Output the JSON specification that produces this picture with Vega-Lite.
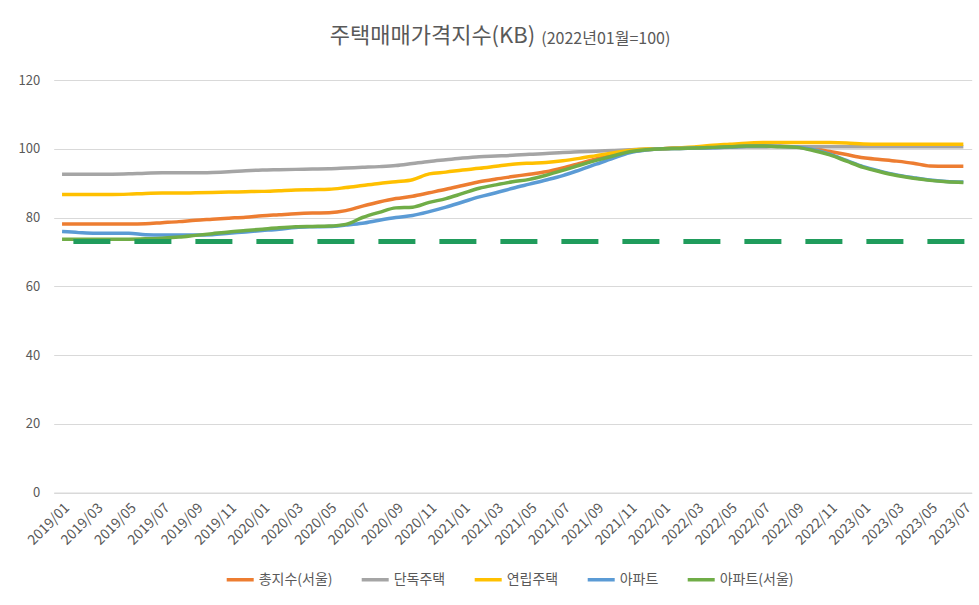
{
"$schema": "https://vega.github.io/schema/vega-lite/v6.json",
"width": 918,
"height": 412.5,
"autosize": {"type": "none"},
"padding": {"left": 53.7, "top": 80, "right": 7.3, "bottom": 112.5},
"background": "white",
"config": {"font": "Noto Sans CJK KR", "view": {"stroke": null}},
"title": {"text": "주택매매가격지수(KB)", "subtitle": "​　　　　　　　　　　　　　 (2022년01월=100)", "anchor": "start", "frame": "group", "dx": 276, "fontSize": 22, "fontWeight": "normal", "color": "#595959", "subtitleFontSize": 16, "subtitleColor": "#595959", "subtitlePadding": -17, "offset": 26},
"datasets": {
"idx": [
{"month":"2019/01","series":"총지수(서울)","value":78.1},{"month":"2019/02","series":"총지수(서울)","value":78.1},{"month":"2019/03","series":"총지수(서울)","value":78.1},{"month":"2019/04","series":"총지수(서울)","value":78.1},{"month":"2019/05","series":"총지수(서울)","value":78.1},{"month":"2019/06","series":"총지수(서울)","value":78.2},{"month":"2019/07","series":"총지수(서울)","value":78.5},{"month":"2019/08","series":"총지수(서울)","value":78.8},{"month":"2019/09","series":"총지수(서울)","value":79.2},{"month":"2019/10","series":"총지수(서울)","value":79.5},{"month":"2019/11","series":"총지수(서울)","value":79.8},{"month":"2019/12","series":"총지수(서울)","value":80.1},{"month":"2020/01","series":"총지수(서울)","value":80.5},{"month":"2020/02","series":"총지수(서울)","value":80.8},{"month":"2020/03","series":"총지수(서울)","value":81.1},{"month":"2020/04","series":"총지수(서울)","value":81.3},{"month":"2020/05","series":"총지수(서울)","value":81.4},{"month":"2020/06","series":"총지수(서울)","value":82.0},{"month":"2020/07","series":"총지수(서울)","value":83.3},{"month":"2020/08","series":"총지수(서울)","value":84.5},{"month":"2020/09","series":"총지수(서울)","value":85.5},{"month":"2020/10","series":"총지수(서울)","value":86.2},{"month":"2020/11","series":"총지수(서울)","value":87.2},{"month":"2020/12","series":"총지수(서울)","value":88.2},{"month":"2021/01","series":"총지수(서울)","value":89.3},{"month":"2021/02","series":"총지수(서울)","value":90.4},{"month":"2021/03","series":"총지수(서울)","value":91.2},{"month":"2021/04","series":"총지수(서울)","value":91.9},{"month":"2021/05","series":"총지수(서울)","value":92.6},{"month":"2021/06","series":"총지수(서울)","value":93.3},{"month":"2021/07","series":"총지수(서울)","value":94.4},{"month":"2021/08","series":"총지수(서울)","value":95.7},{"month":"2021/09","series":"총지수(서울)","value":97.0},{"month":"2021/10","series":"총지수(서울)","value":98.2},{"month":"2021/11","series":"총지수(서울)","value":99.2},{"month":"2021/12","series":"총지수(서울)","value":99.7},{"month":"2022/01","series":"총지수(서울)","value":100.0},{"month":"2022/02","series":"총지수(서울)","value":100.2},{"month":"2022/03","series":"총지수(서울)","value":100.3},{"month":"2022/04","series":"총지수(서울)","value":100.4},{"month":"2022/05","series":"총지수(서울)","value":100.6},{"month":"2022/06","series":"총지수(서울)","value":100.8},{"month":"2022/07","series":"총지수(서울)","value":100.8},{"month":"2022/08","series":"총지수(서울)","value":100.7},{"month":"2022/09","series":"총지수(서울)","value":100.5},{"month":"2022/10","series":"총지수(서울)","value":100.1},{"month":"2022/11","series":"총지수(서울)","value":99.2},{"month":"2022/12","series":"총지수(서울)","value":98.3},{"month":"2023/01","series":"총지수(서울)","value":97.4},{"month":"2023/02","series":"총지수(서울)","value":96.9},{"month":"2023/03","series":"총지수(서울)","value":96.4},{"month":"2023/04","series":"총지수(서울)","value":95.8},{"month":"2023/05","series":"총지수(서울)","value":95.0},{"month":"2023/06","series":"총지수(서울)","value":94.9},{"month":"2023/07","series":"총지수(서울)","value":94.9},
{"month":"2019/01","series":"단독주택","value":92.6},{"month":"2019/02","series":"단독주택","value":92.6},{"month":"2019/03","series":"단독주택","value":92.6},{"month":"2019/04","series":"단독주택","value":92.6},{"month":"2019/05","series":"단독주택","value":92.7},{"month":"2019/06","series":"단독주택","value":92.9},{"month":"2019/07","series":"단독주택","value":93.0},{"month":"2019/08","series":"단독주택","value":93.0},{"month":"2019/09","series":"단독주택","value":93.0},{"month":"2019/10","series":"단독주택","value":93.1},{"month":"2019/11","series":"단독주택","value":93.3},{"month":"2019/12","series":"단독주택","value":93.6},{"month":"2020/01","series":"단독주택","value":93.8},{"month":"2020/02","series":"단독주택","value":93.9},{"month":"2020/03","series":"단독주택","value":94.0},{"month":"2020/04","series":"단독주택","value":94.1},{"month":"2020/05","series":"단독주택","value":94.2},{"month":"2020/06","series":"단독주택","value":94.4},{"month":"2020/07","series":"단독주택","value":94.6},{"month":"2020/08","series":"단독주택","value":94.8},{"month":"2020/09","series":"단독주택","value":95.1},{"month":"2020/10","series":"단독주택","value":95.7},{"month":"2020/11","series":"단독주택","value":96.3},{"month":"2020/12","series":"단독주택","value":96.8},{"month":"2021/01","series":"단독주택","value":97.3},{"month":"2021/02","series":"단독주택","value":97.7},{"month":"2021/03","series":"단독주택","value":97.9},{"month":"2021/04","series":"단독주택","value":98.1},{"month":"2021/05","series":"단독주택","value":98.4},{"month":"2021/06","series":"단독주택","value":98.6},{"month":"2021/07","series":"단독주택","value":98.9},{"month":"2021/08","series":"단독주택","value":99.1},{"month":"2021/09","series":"단독주택","value":99.3},{"month":"2021/10","series":"단독주택","value":99.5},{"month":"2021/11","series":"단독주택","value":99.7},{"month":"2021/12","series":"단독주택","value":99.9},{"month":"2022/01","series":"단독주택","value":100.0},{"month":"2022/02","series":"단독주택","value":100.1},{"month":"2022/03","series":"단독주택","value":100.2},{"month":"2022/04","series":"단독주택","value":100.3},{"month":"2022/05","series":"단독주택","value":100.4},{"month":"2022/06","series":"단독주택","value":100.5},{"month":"2022/07","series":"단독주택","value":100.5},{"month":"2022/08","series":"단독주택","value":100.6},{"month":"2022/09","series":"단독주택","value":100.6},{"month":"2022/10","series":"단독주택","value":100.6},{"month":"2022/11","series":"단독주택","value":100.6},{"month":"2022/12","series":"단독주택","value":100.6},{"month":"2023/01","series":"단독주택","value":100.6},{"month":"2023/02","series":"단독주택","value":100.6},{"month":"2023/03","series":"단독주택","value":100.6},{"month":"2023/04","series":"단독주택","value":100.6},{"month":"2023/05","series":"단독주택","value":100.6},{"month":"2023/06","series":"단독주택","value":100.6},{"month":"2023/07","series":"단독주택","value":100.6},
{"month":"2019/01","series":"연립주택","value":86.7},{"month":"2019/02","series":"연립주택","value":86.7},{"month":"2019/03","series":"연립주택","value":86.7},{"month":"2019/04","series":"연립주택","value":86.7},{"month":"2019/05","series":"연립주택","value":86.8},{"month":"2019/06","series":"연립주택","value":87.0},{"month":"2019/07","series":"연립주택","value":87.1},{"month":"2019/08","series":"연립주택","value":87.1},{"month":"2019/09","series":"연립주택","value":87.2},{"month":"2019/10","series":"연립주택","value":87.3},{"month":"2019/11","series":"연립주택","value":87.4},{"month":"2019/12","series":"연립주택","value":87.5},{"month":"2020/01","series":"연립주택","value":87.6},{"month":"2020/02","series":"연립주택","value":87.8},{"month":"2020/03","series":"연립주택","value":88.0},{"month":"2020/04","series":"연립주택","value":88.1},{"month":"2020/05","series":"연립주택","value":88.2},{"month":"2020/06","series":"연립주택","value":88.7},{"month":"2020/07","series":"연립주택","value":89.3},{"month":"2020/08","series":"연립주택","value":89.9},{"month":"2020/09","series":"연립주택","value":90.4},{"month":"2020/10","series":"연립주택","value":91.0},{"month":"2020/11","series":"연립주택","value":92.7},{"month":"2020/12","series":"연립주택","value":93.2},{"month":"2021/01","series":"연립주택","value":93.8},{"month":"2021/02","series":"연립주택","value":94.3},{"month":"2021/03","series":"연립주택","value":94.9},{"month":"2021/04","series":"연립주택","value":95.5},{"month":"2021/05","series":"연립주택","value":95.8},{"month":"2021/06","series":"연립주택","value":96.0},{"month":"2021/07","series":"연립주택","value":96.5},{"month":"2021/08","series":"연립주택","value":97.2},{"month":"2021/09","series":"연립주택","value":98.0},{"month":"2021/10","series":"연립주택","value":98.8},{"month":"2021/11","series":"연립주택","value":99.5},{"month":"2021/12","series":"연립주택","value":99.9},{"month":"2022/01","series":"연립주택","value":100.0},{"month":"2022/02","series":"연립주택","value":100.3},{"month":"2022/03","series":"연립주택","value":100.6},{"month":"2022/04","series":"연립주택","value":101.0},{"month":"2022/05","series":"연립주택","value":101.3},{"month":"2022/06","series":"연립주택","value":101.6},{"month":"2022/07","series":"연립주택","value":101.8},{"month":"2022/08","series":"연립주택","value":101.8},{"month":"2022/09","series":"연립주택","value":101.8},{"month":"2022/10","series":"연립주택","value":101.8},{"month":"2022/11","series":"연립주택","value":101.8},{"month":"2022/12","series":"연립주택","value":101.7},{"month":"2023/01","series":"연립주택","value":101.4},{"month":"2023/02","series":"연립주택","value":101.3},{"month":"2023/03","series":"연립주택","value":101.3},{"month":"2023/04","series":"연립주택","value":101.3},{"month":"2023/05","series":"연립주택","value":101.3},{"month":"2023/06","series":"연립주택","value":101.3},{"month":"2023/07","series":"연립주택","value":101.3},
{"month":"2019/01","series":"아파트","value":75.9},{"month":"2019/02","series":"아파트","value":75.6},{"month":"2019/03","series":"아파트","value":75.4},{"month":"2019/04","series":"아파트","value":75.4},{"month":"2019/05","series":"아파트","value":75.4},{"month":"2019/06","series":"아파트","value":75.0},{"month":"2019/07","series":"아파트","value":74.9},{"month":"2019/08","series":"아파트","value":74.9},{"month":"2019/09","series":"아파트","value":74.9},{"month":"2019/10","series":"아파트","value":75.0},{"month":"2019/11","series":"아파트","value":75.4},{"month":"2019/12","series":"아파트","value":75.8},{"month":"2020/01","series":"아파트","value":76.2},{"month":"2020/02","series":"아파트","value":76.6},{"month":"2020/03","series":"아파트","value":77.1},{"month":"2020/04","series":"아파트","value":77.3},{"month":"2020/05","series":"아파트","value":77.4},{"month":"2020/06","series":"아파트","value":77.8},{"month":"2020/07","series":"아파트","value":78.3},{"month":"2020/08","series":"아파트","value":79.2},{"month":"2020/09","series":"아파트","value":80.0},{"month":"2020/10","series":"아파트","value":80.6},{"month":"2020/11","series":"아파트","value":81.7},{"month":"2020/12","series":"아파트","value":83.0},{"month":"2021/01","series":"아파트","value":84.5},{"month":"2021/02","series":"아파트","value":86.0},{"month":"2021/03","series":"아파트","value":87.2},{"month":"2021/04","series":"아파트","value":88.5},{"month":"2021/05","series":"아파트","value":89.7},{"month":"2021/06","series":"아파트","value":90.9},{"month":"2021/07","series":"아파트","value":92.2},{"month":"2021/08","series":"아파트","value":93.8},{"month":"2021/09","series":"아파트","value":95.5},{"month":"2021/10","series":"아파트","value":97.2},{"month":"2021/11","series":"아파트","value":98.8},{"month":"2021/12","series":"아파트","value":99.6},{"month":"2022/01","series":"아파트","value":100.0},{"month":"2022/02","series":"아파트","value":100.1},{"month":"2022/03","series":"아파트","value":100.2},{"month":"2022/04","series":"아파트","value":100.3},{"month":"2022/05","series":"아파트","value":100.5},{"month":"2022/06","series":"아파트","value":100.7},{"month":"2022/07","series":"아파트","value":100.8},{"month":"2022/08","series":"아파트","value":100.7},{"month":"2022/09","series":"아파트","value":100.5},{"month":"2022/10","series":"아파트","value":99.7},{"month":"2022/11","series":"아파트","value":98.4},{"month":"2022/12","series":"아파트","value":96.6},{"month":"2023/01","series":"아파트","value":94.8},{"month":"2023/02","series":"아파트","value":93.5},{"month":"2023/03","series":"아파트","value":92.4},{"month":"2023/04","series":"아파트","value":91.6},{"month":"2023/05","series":"아파트","value":90.9},{"month":"2023/06","series":"아파트","value":90.5},{"month":"2023/07","series":"아파트","value":90.3},
{"month":"2019/01","series":"아파트(서울)","value":73.7},{"month":"2019/02","series":"아파트(서울)","value":73.7},{"month":"2019/03","series":"아파트(서울)","value":73.7},{"month":"2019/04","series":"아파트(서울)","value":73.7},{"month":"2019/05","series":"아파트(서울)","value":73.7},{"month":"2019/06","series":"아파트(서울)","value":73.8},{"month":"2019/07","series":"아파트(서울)","value":74.0},{"month":"2019/08","series":"아파트(서울)","value":74.3},{"month":"2019/09","series":"아파트(서울)","value":74.8},{"month":"2019/10","series":"아파트(서울)","value":75.3},{"month":"2019/11","series":"아파트(서울)","value":75.8},{"month":"2019/12","series":"아파트(서울)","value":76.2},{"month":"2020/01","series":"아파트(서울)","value":76.6},{"month":"2020/02","series":"아파트(서울)","value":77.0},{"month":"2020/03","series":"아파트(서울)","value":77.3},{"month":"2020/04","series":"아파트(서울)","value":77.4},{"month":"2020/05","series":"아파트(서울)","value":77.5},{"month":"2020/06","series":"아파트(서울)","value":78.0},{"month":"2020/07","series":"아파트(서울)","value":80.0},{"month":"2020/08","series":"아파트(서울)","value":81.5},{"month":"2020/09","series":"아파트(서울)","value":82.8},{"month":"2020/10","series":"아파트(서울)","value":83.0},{"month":"2020/11","series":"아파트(서울)","value":84.4},{"month":"2020/12","series":"아파트(서울)","value":85.5},{"month":"2021/01","series":"아파트(서울)","value":87.0},{"month":"2021/02","series":"아파트(서울)","value":88.5},{"month":"2021/03","series":"아파트(서울)","value":89.5},{"month":"2021/04","series":"아파트(서울)","value":90.4},{"month":"2021/05","series":"아파트(서울)","value":91.1},{"month":"2021/06","series":"아파트(서울)","value":92.3},{"month":"2021/07","series":"아파트(서울)","value":93.7},{"month":"2021/08","series":"아파트(서울)","value":95.2},{"month":"2021/09","series":"아파트(서울)","value":96.6},{"month":"2021/10","series":"아파트(서울)","value":97.9},{"month":"2021/11","series":"아파트(서울)","value":99.1},{"month":"2021/12","series":"아파트(서울)","value":99.7},{"month":"2022/01","series":"아파트(서울)","value":100.0},{"month":"2022/02","series":"아파트(서울)","value":100.1},{"month":"2022/03","series":"아파트(서울)","value":100.2},{"month":"2022/04","series":"아파트(서울)","value":100.4},{"month":"2022/05","series":"아파트(서울)","value":100.6},{"month":"2022/06","series":"아파트(서울)","value":100.8},{"month":"2022/07","series":"아파트(서울)","value":100.8},{"month":"2022/08","series":"아파트(서울)","value":100.6},{"month":"2022/09","series":"아파트(서울)","value":100.4},{"month":"2022/10","series":"아파트(서울)","value":99.5},{"month":"2022/11","series":"아파트(서울)","value":98.2},{"month":"2022/12","series":"아파트(서울)","value":96.4},{"month":"2023/01","series":"아파트(서울)","value":94.6},{"month":"2023/02","series":"아파트(서울)","value":93.3},{"month":"2023/03","series":"아파트(서울)","value":92.2},{"month":"2023/04","series":"아파트(서울)","value":91.4},{"month":"2023/05","series":"아파트(서울)","value":90.8},{"month":"2023/06","series":"아파트(서울)","value":90.4},{"month":"2023/07","series":"아파트(서울)","value":90.2}
],
"ref": [{"level": 73}]
},
"layer": [
{
"data": {"name": "idx"},
"mark": {"type": "line", "strokeWidth": 3.5, "interpolate": "monotone"},
"encoding": {
"x": {"field": "month", "type": "ordinal", "scale": {"type": "point", "padding": 0.5},
"axis": {"title": null, "values": ["2019/01","2019/03","2019/05","2019/07","2019/09","2019/11","2020/01","2020/03","2020/05","2020/07","2020/09","2020/11","2021/01","2021/03","2021/05","2021/07","2021/09","2021/11","2022/01","2022/03","2022/05","2022/07","2022/09","2022/11","2023/01","2023/03","2023/05","2023/07"],
"labelAngle": -45, "labelFontSize": 14, "labelColor": "#595959", "ticks": false, "domainColor": "#d9d9d9", "domainWidth": 1, "labelPadding": 8, "grid": false}},
"y": {"field": "value", "type": "quantitative", "scale": {"domain": [0, 120]},
"axis": {"title": null, "values": [0,20,40,60,80,100,120], "domain": false, "ticks": false, "gridColor": "#d9d9d9", "gridWidth": 1, "labelColor": "#595959", "labelFontSize": 13, "labelPadding": 14}},
"color": {"field": "series", "type": "nominal",
"scale": {"domain": ["총지수(서울)","단독주택","연립주택","아파트","아파트(서울)"], "range": ["#ED7D31","#A5A5A5","#FFC000","#5B9BD5","#70AD47"]},
"legend": {"title": null, "orient": "none", "legendX": 171, "legendY": 484, "direction": "horizontal", "symbolType": "stroke", "symbolStrokeWidth": 3.5, "symbolSize": 729, "labelFontSize": 14, "labelColor": "#595959", "columnPadding": 22, "labelOffset": 3}}
}
},
{
"data": {"name": "ref"},
"mark": {"type": "rule", "color": "#209c5c", "strokeWidth": 5, "strokeDash": [37, 24], "strokeDashOffset": 53.7},
"encoding": {"y": {"field": "level", "type": "quantitative",
"axis": {"title": null, "values": [0,20,40,60,80,100,120], "domain": false, "ticks": false, "gridColor": "#d9d9d9", "gridWidth": 1, "labelColor": "#595959", "labelFontSize": 13, "labelPadding": 14}}}
}
]
}
